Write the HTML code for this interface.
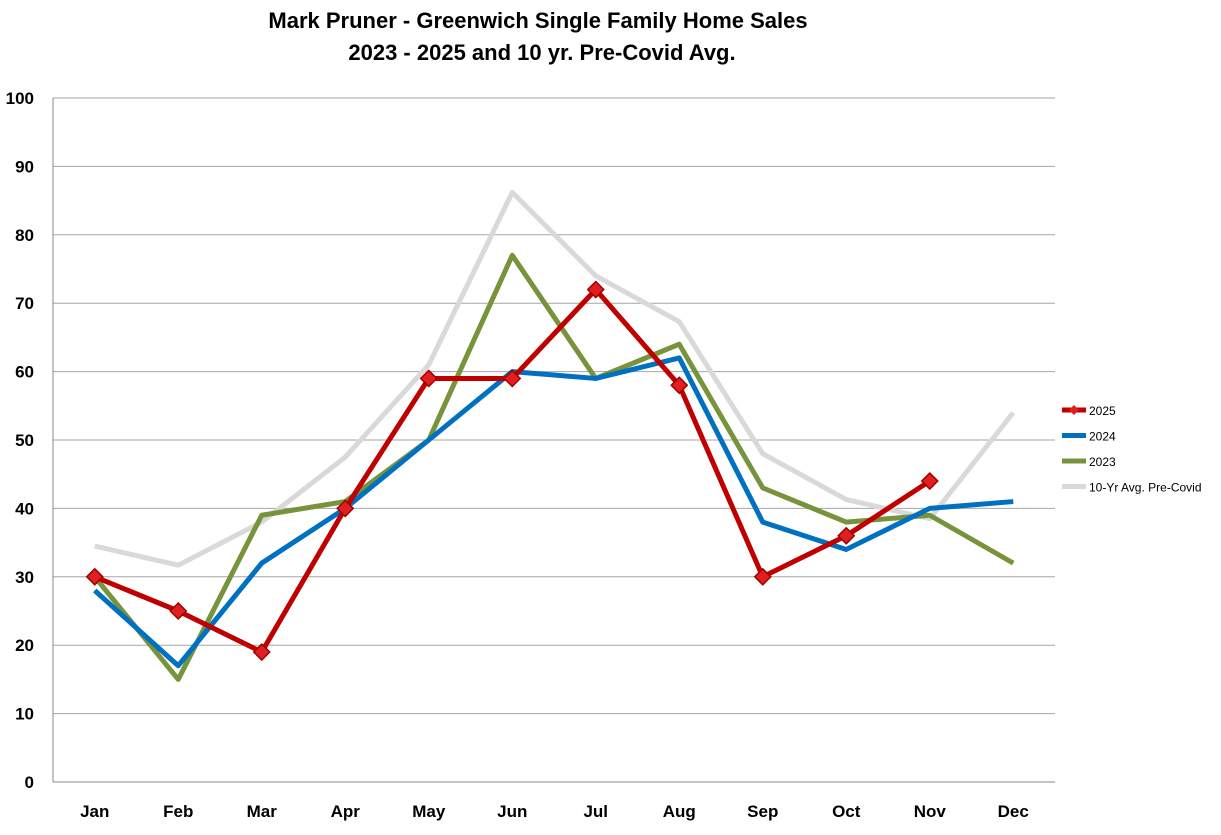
<!DOCTYPE html>
<html><head><meta charset="utf-8"><style>
body{margin:0;background:#fff;}
svg{display:block;font-family:"Liberation Sans",Arial,sans-serif;}
</style></head><body>
<svg id="chart" width="1221" height="835" viewBox="0 0 1221 835">
<rect width="1221" height="835" fill="#fff"/>
<text x="538" y="28" text-anchor="middle" font-size="22" font-weight="bold" fill="#000">Mark Pruner - Greenwich Single Family Home Sales</text>
<text x="542" y="60" text-anchor="middle" font-size="22" font-weight="bold" fill="#000">2023 - 2025 and 10 yr. Pre-Covid Avg.</text>
<g id="grid"></g><g id="axes"></g><g id="series"></g><g id="legend"></g>
</svg>
<script>
const months=["Jan","Feb","Mar","Apr","May","Jun","Jul","Aug","Sep","Oct","Nov","Dec"];
const yTicks=[0,10,20,30,40,50,60,70,80,90,100];
const s2025=[30,25,19,40,59,59,72,58,30,36,44];
const s2024=[28,17,32,40,50,60,59,62,38,34,40,41];
const s2023=[30,15,39,41,50,77,59,64,43,38,39,32];
const sAvg=[34.5,31.7,38,47.5,61,86.2,74,67.3,48,41.3,38.5,54];
const NS="http://www.w3.org/2000/svg";
const L=53,R=1055,T=98,B=782;
const bw=(R-L)/months.length;
const x=i=>L+bw*(i+0.5);
const y=v=>B-(v/100)*(B-T);
function mk(tag,attrs,parent){const e=document.createElementNS(NS,tag);for(const k in attrs)e.setAttribute(k,attrs[k]);parent.appendChild(e);return e;}
const grid=document.getElementById('grid'),axes=document.getElementById('axes'),ser=document.getElementById('series'),leg=document.getElementById('legend');
yTicks.forEach(t=>{
 const l=mk('line',{x1:L,x2:R,y1:y(t),y2:y(t),stroke:t===0?'#888':'#a6a6a6','stroke-width':1},grid);
 
 
 const tx=mk('text',{x:34,y:y(t)+6,'text-anchor':'end','font-size':17,'font-weight':'bold',fill:'#000'},axes);
 tx.textContent=t;
 
 
});
const ax=mk('line',{x1:L,x2:L,y1:T,y2:B,stroke:'#888','stroke-width':1},axes);


months.forEach((m,i)=>{
 const tx=mk('text',{x:x(i),y:817,'text-anchor':'middle','font-size':17,'font-weight':'bold',fill:'#000'},axes);
 tx.textContent=m;
 
 
});
function line(data,color,name){
 const p=mk('polyline',{points:data.map((v,i)=>x(i)+','+y(v)).join(' '),fill:'none',stroke:color,'stroke-width':5,'stroke-linejoin':'round'},ser);
 
 
}
line(sAvg,'#d9d9d9','series-10yr-avg');
line(s2023,'#77933c','series-2023');
line(s2024,'#0070c0','series-2024');
line(s2025,'#c00000','series-2025');
s2025.forEach((v,i)=>{
 const cx=x(i),cy=y(v),r=8;
 const d=mk('polygon',{points:`${cx},${cy-r} ${cx+r},${cy} ${cx},${cy+r} ${cx-r},${cy}`,fill:'#e02020',stroke:'#a00000','stroke-width':1.5},ser);
 
 
});
const legItems=[["2025","#c00000",true],["2024","#0070c0",false],["2023","#77933c",false],["10-Yr Avg. Pre-Covid","#d9d9d9",false]];
legItems.forEach((it,k)=>{
 const ly=410+k*25.5;
 const l=mk('line',{x1:1062,x2:1086,y1:ly,y2:ly,stroke:it[1],'stroke-width':5},leg);
 
 
 if(it[2]){const d=mk('polygon',{points:`1074,${ly-5} 1079,${ly} 1074,${ly+5} 1069,${ly}`,fill:'#e02020'},leg);
  
  }
 const t=mk('text',{x:1089,y:ly+5,'font-size':12,fill:'#000'},leg);
 t.textContent=it[0];
 
 
});
</script>
</body></html>
